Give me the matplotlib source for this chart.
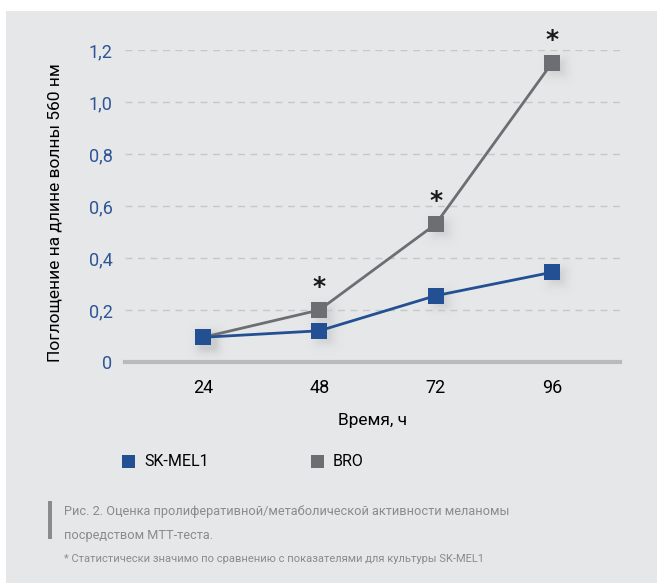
import matplotlib
matplotlib.use("Agg")
import numpy as np
import matplotlib.pyplot as plt
from matplotlib.patches import Rectangle

plt.rcParams['font.family'] = ['Roboto', 'DejaVu Sans']

# Data
hours = ["24", "48", "72", "96"]
sk_mel1 = [0.095, 0.12, 0.255, 0.345]
bro = [0.095, 0.20, 0.53, 1.15]
significant_bro = [False, True, True, True]
y_ticks = [0, 0.2, 0.4, 0.6, 0.8, 1.0, 1.2]
y_tick_labels = ["0", "0,2", "0,4", "0,6", "0,8", "1,0", "1,2"]

BG = "#e6e7e8"
BLUE = "#234f93"
GRAY = "#6d6e71"
TICK_BLUE = "#2e5597"
CAPTION = "#8a8b8d"

W, H = 657, 583
fig = plt.figure(figsize=(W / 100, H / 100), dpi=100)
fig.patch.set_facecolor("white")

# Gray panel behind everything
fig.patches.append(Rectangle((6 / W, 0), 1 - 6 / W, 1 - 11 / H,
                             transform=fig.transFigure, facecolor=BG,
                             edgecolor="none", zorder=-10))

ax = fig.add_axes([125 / W, 1 - 362 / H, (620 - 125) / W, (362 - 50) / H])
ax.set_facecolor("none")
x = list(range(len(hours)))
ax.set_xlim(-0.67, 3.585)
ax.set_ylim(0, 1.2)

for s in ["top", "right", "left"]:
    ax.spines[s].set_visible(False)
ax.spines["bottom"].set_color("#b9babc")
ax.spines["bottom"].set_linewidth(3)

ax.set_yticks(y_ticks)
ax.set_yticklabels(y_tick_labels)
ax.set_xticks(x)
ax.set_xticklabels(hours)
ax.tick_params(axis="both", length=0, labelsize=13)
ax.tick_params(axis="y", colors=TICK_BLUE, pad=9)
ax.tick_params(axis="x", colors="black", pad=12)
for yv in y_ticks[1:]:
    ax.axhline(yv, color="#c6c7c9", lw=1, ls=(0, (5, 4)), zorder=0)

# Soft drop shadow under each marker, rendered as a blurred image layer
pts = np.array([ax.transData.transform((xi, yi))
                for series in (sk_mel1, bro) for xi, yi in zip(x, series)])
yy, xx = np.mgrid[0:H, 0:W]
alpha = np.zeros((H, W))
for px, py in pts:
    cx, cy = px + 5, py - 5
    r = (((xx - cx) / 11.0) ** 4 + ((yy - cy) / 11.0) ** 4) ** 0.5
    alpha += 0.26 * np.exp(-1.3 * r)
alpha = np.clip(alpha, 0, 0.28)
shadow = np.zeros((H, W, 4))
shadow[..., 0] = 0.55
shadow[..., 1] = 0.55
shadow[..., 2] = 0.57
shadow[..., 3] = alpha
fig.figimage(shadow, xo=0, yo=0, origin="lower", zorder=-5)

ax.plot(x, bro, color=GRAY, lw=2, marker="s", ms=11, mew=0, zorder=3,
        label="BRO")
ax.plot(x, sk_mel1, color=BLUE, lw=2, marker="s", ms=11, mew=0, zorder=4,
        label="SK-MEL1")

for xi, yi, sig in zip(x, bro, significant_bro):
    if sig:
        ax.annotate("*", (xi, yi), xytext=(0, 8), textcoords="offset points",
                    ha="center", va="bottom", fontsize=18, color="#1a1a1a",
                    fontweight="bold", family=["DejaVu Sans"], clip_on=False)

ax.set_xlabel("Время, ч", fontsize=12.5, labelpad=12)
ax.set_ylabel("Поглощение на длине волны 560 нм", fontsize=12.5)
ax.yaxis.set_label_coords(-0.127, 0.48)

# Legend built by hand as two square swatches
leg_y = 1 - 461 / H
for xs, col, name in [(122, BLUE, "SK-MEL1"), (311, GRAY, "BRO")]:
    fig.patches.append(Rectangle((xs / W, leg_y - 6.5 / H), 13 / W, 13 / H,
                                 transform=fig.transFigure, facecolor=col,
                                 edgecolor="none"))
    fig.text((xs + 22) / W, leg_y, name, fontsize=11.5, va="center", ha="left")

# Caption block
fig.patches.append(Rectangle((48 / W, 1 - 539 / H), 4 / W, 38 / H,
                             transform=fig.transFigure, facecolor="#8a8b8d",
                             edgecolor="none"))
fig.text(64 / W, 1 - 511 / H,
         "Рис. 2. Оценка пролиферативной/метаболической активности меланомы",
         fontsize=9.2, color=CAPTION, va="center", ha="left")
fig.text(64 / W, 1 - 535 / H, "посредством МТТ-теста.",
         fontsize=9.2, color=CAPTION, va="center", ha="left")
fig.text(64 / W, 1 - 559 / H,
         "* Статистически значимо по сравнению с показателями для культуры SK-MEL1",
         fontsize=8.0, color=CAPTION, va="center", ha="left")

fig.savefig("out.png", dpi=100, facecolor="white")
